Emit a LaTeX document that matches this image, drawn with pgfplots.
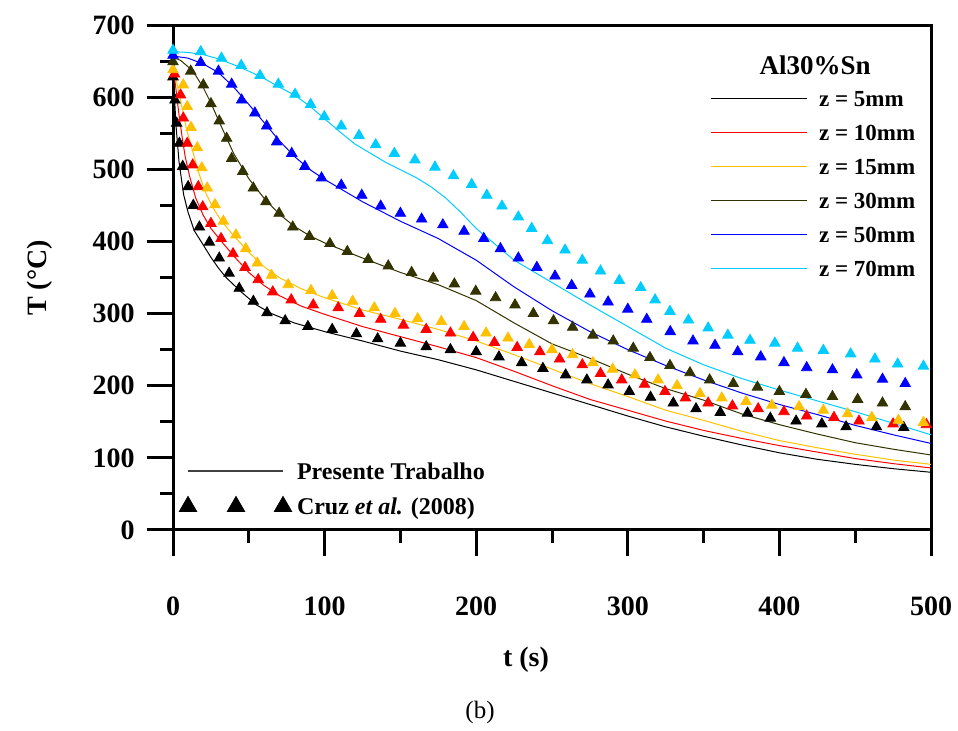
\documentclass[border=0pt]{standalone}
\usepackage{fontspec}
\setmainfont{Liberation Serif}
\usepackage{pgfplots}
\pgfplotsset{compat=1.18}
\definecolor{cyel}{RGB}{255,192,0}
\definecolor{colive}{RGB}{51,51,0}
\definecolor{ccyan}{RGB}{0,204,255}
\begin{document}
\begin{tikzpicture}
\path[use as bounding box] (-86.5pt,-100.5pt) rectangle (392.5pt,265pt);
\begin{axis}[
  at={(0pt,0pt)}, anchor=south west,
  scale only axis, width=379pt, height=252.5pt,
  xmin=0, xmax=500, ymin=0, ymax=700,
  xtick={0,100,...,500}, ytick={0,100,...,700},
  minor x tick num=1, minor y tick num=1,
  tick align=outside, tick pos=left,
  major tick length=13pt, minor tick length=6.5pt,
  axis line style={line width=1.5pt},
  major tick style={black, line width=1.5pt},
  minor tick style={black, line width=1.5pt},
  clip=false,
  /pgf/number format/assume math mode=true,
  tick label style={font=\fontsize{14}{16}\selectfont\bfseries},
  yticklabel style={anchor=east, inner sep=0pt, xshift=-6pt},
  xticklabel style={anchor=north, inner sep=0pt, yshift=-20pt},
  legend cell align=left,
  legend image code/.code={\draw[#1] (0pt,0pt) -- (48pt,0pt);},
  legend style={draw=none, fill=none, at={(0.7085,0.8707)}, anchor=north west,
    inner sep=0pt, outer sep=0pt, row sep=9pt,
    font=\fontsize{11.5}{13}\selectfont\bfseries,
    nodes={inner sep=0pt, text height=8pt, text depth=0pt},
    /tikz/every odd column/.append style={column sep=6pt}},
]
% ---- Cruz et al. (2008) markers
\addplot[only marks, mark=triangle*, mark size=3pt, black, forget plot] coordinates {
(0,628)(1.3,596)(2.4,564)(4.2,536)(6.4,504)(10,476)(13.4,450)(17.4,420)(24,399)(30.5,377)(37,356)(43.7,335)(53,317)(62,301)(74,290)(89,282)(105,278)(121,272)(135,265)(150,259)(167,254)(183,250)(200,247)(215,240)(230,232)(244,224)(259,215)(273,208)(287,201)(301,192)(315,184)(330,176)(345,168)(361,163)(379,162)(394,155)(411,151)(428,147)(444,143)(464,143)(482,142)};
\addplot[only marks, mark=triangle*, mark size=3pt, red, forget plot] coordinates {
(1,632)(5,603)(6.8,571)(9.4,536)(13,506)(16.7,476)(19.6,448)(25,425)(31.7,404)(39.6,383)(47.5,364)(56.2,347)(65.8,330)(78,319)(92.5,312)(109,308)(123,300)(137,292)(152,284)(167,278)(183,273)(198,267)(212,260)(227,253)(242,247)(255,237)(270,229)(282,217)(296,208)(311,202)(324.5,192)(338,183)(353,176)(369,172)(386,168)(403,164)(418,158)(436,156)(452.5,151)(475,147)(497,146)};
\addplot[only marks, mark=triangle*, mark size=3pt, cyel, forget plot] coordinates {
(0,638)(6.8,617)(9.4,587)(11.9,558)(16,530)(19,502)(22.6,474)(27.7,451)(33.2,428)(41.5,409)(48,390)(55.6,370)(65,353)(76,340)(91,332)(105,325)(118.5,317)(132.8,308)(146.4,300)(161.4,293)(177,289)(192,282)(206.5,273)(221,266)(235,257)(250,250)(263.6,243)(277,232)(290,223)(304.7,215)(320,208)(332.5,200)(347.6,189)(362,183)(378,178)(395,173)(413,171)(429,166)(445,161)(461,156)(478.5,152)(495,149)};
\addplot[only marks, mark=triangle*, mark size=3pt, colive, forget plot] coordinates {
(0,649)(11.7,636)(20,617)(25,591)(30.5,567)(35.4,543)(38.7,515)(46,497)(53,474)(61.3,455)(70,439)(79,420)(90,407)(103.5,397)(115,386)(128.8,375)(142,366)(157.4,357)(171.7,349)(185.6,341)(199.7,331)(212.8,322)(225.6,312)(237.7,300)(251,290)(263.6,281)(277,270)(290.4,262)(303.6,252)(314.6,239)(327.8,228)(341,218)(354,208)(369.6,203)(385.5,198)(400,192)(417.5,188)(435,185)(451.6,181)(468,176)(483,171)};
\addplot[only marks, mark=triangle*, mark size=3pt, blue, forget plot] coordinates {
(0,658)(18.3,648)(30,636)(38.7,618)(45.3,596)(54,578)(61.8,560)(68.4,538)(78.3,522)(87,504)(98,488)(111,478)(124.5,464)(137,449)(150,439)(164,431)(178,423)(192,414)(205,404)(216,390)(227.8,377)(240,364)(252,352)(263,339)(275,327)(287,316)(300,306)(312.5,292)(328,275)(343,262)(357.5,256)(372.5,247)(387.7,240)(403,232)(418,225)(435,222)(451,215)(468,209)(483,203)};
\addplot[only marks, mark=triangle*, mark size=3pt, ccyan, forget plot] coordinates {
(0,665)(18.3,663)(32,654)(45,644)(57.4,630)(69.5,618)(80.5,604)(90.8,590)(99.8,573)(111,560)(122.7,547)(133.7,534)(146,522)(159.6,513)(172.8,503)(185,491)(197,479)(207,464)(217,449)(227.8,434)(236.6,418)(247,401)(258.6,388)(270,374)(282,359)(294.4,346)(308.5,336)(318,319)(327.8,303)(340,291)(353,280)(366,270)(380.6,263)(397,259)(412,252)(429,249)(447,244)(463,237)(478,230)(495,227)};
% ---- Presente Trabalho lines
\addplot[black, line width=0.5pt] coordinates {
(0,640)(2,560)(4,510)(7,465)(10,440)(14,415)(20,395)(25,378)(30,363)(35,350)(45,330)(55,312)(65,300)(80,287)(100,275)(125,262)(150,248)(175,236)(200,222)(225,206)(250,190)(275,174)(300,158)(325,143)(350,130)(375,118)(400,107)(425,98)(450,91)(475,85)(500,80)};
\addlegendentry{z = 5mm}
\addplot[red, line width=0.5pt] coordinates {
(0,645)(2,610)(4,575)(6,545)(8,518)(11,490)(15,460)(20,436)(25,418)(32,400)(40,380)(50,357)(60,339)(70,325)(85,310)(100,299)(125,282)(150,268)(175,254)(200,239)(225,220)(250,200)(275,181)(300,166)(325,151)(350,138)(375,127)(400,117)(425,108)(450,99)(475,92)(500,86)};
\addlegendentry{z = 10mm}
\addplot[cyel, line width=0.5pt] coordinates {
(0,648)(3,615)(6,585)(9,555)(13,525)(17,495)(21,470)(26,448)(32,428)(40,408)(50,385)(60,365)(70,350)(85,334)(100,322)(125,305)(150,292)(175,278)(200,262)(225,243)(250,223)(275,203)(300,185)(325,166)(350,152)(375,137)(400,124)(425,114)(450,105)(475,97)(500,91)};
\addlegendentry{z = 15mm}
\addplot[colive, line width=0.5pt] coordinates {
(0,655)(5,651)(10,642)(15,630)(20,613)(25,592)(30,568)(35,545)(40,522)(50,487)(60,460)(70,438)(80,421)(90,408)(100,398)(125,377)(150,357)(175,340)(200,318)(225,287)(250,258)(275,238)(300,216)(325,196)(350,180)(375,161)(400,146)(425,133)(450,121)(475,112)(500,104)};
\addlegendentry{z = 30mm}
\addplot[blue, line width=0.5pt] coordinates {
(0,657)(10,654)(20,646)(30,634)(40,614)(50,590)(60,565)(70,540)(80,518)(90,500)(100,486)(125,455)(150,428)(175,404)(200,374)(225,337)(250,304)(275,275)(300,250)(325,228)(350,208)(375,190)(400,174)(425,160)(450,145)(475,132)(500,120)};
\addlegendentry{z = 50mm}
\addplot[ccyan, line width=0.5pt] coordinates {
(0,663)(10,662)(20,659)(30,653)(40,645)(50,636)(60,626)(70,614)(80,603)(90,588)(100,570)(110,552)(120,535)(140,510)(160,489)(170,476)(180,460)(190,440)(200,418)(225,374)(250,343)(275,312)(300,282)(325,252)(350,229)(375,210)(400,194)(425,179)(450,164)(475,148)(500,132)};
\addlegendentry{z = 70mm}
\node[font=\fontsize{13.5}{15}\selectfont\bfseries] at (axis cs:423.5,644.6) {Al30\%Sn};
\end{axis}
\begin{axis}[
  at={(0pt,0pt)}, anchor=south west,
  scale only axis, width=379pt, height=252.5pt,
  hide axis, xmin=0, xmax=1, ymin=0, ymax=1,
  legend cell align=left,
  legend style={draw=none, fill=none, at={(0.0066,0.1337)}, anchor=north west,
    inner sep=0pt, outer sep=0pt, row sep=8.5pt,
    font=\fontsize{12}{14}\selectfont\bfseries,
    nodes={inner sep=0pt, text height=8.5pt, text depth=0pt},
    /tikz/every odd column/.append style={column sep=1.5pt}},
]
\addlegendimage{legend image code/.code={\path[draw=none, fill=none] (-5pt,0pt) -- (53pt,0pt); \draw[black!75, line width=0.6pt] (0pt,0pt) -- (47.5pt,0pt);}}
\addlegendentry{Presente Trabalho}
\addlegendimage{legend image code/.code={\path[draw=none, fill=none] (-5pt,0pt) -- (53pt,0pt); \path[draw=none] plot[only marks, mark=triangle*, mark size=5pt, mark options={draw=black, fill=black}] coordinates {(0pt,0pt) (24pt,0pt) (47.5pt,0pt)};}}
\addlegendentry{Cruz \textit{et al.} (2008)}
\end{axis}
\node[font=\fontsize{14}{16}\selectfont\bfseries] at (176.5pt,-65pt) {t (s)};
\node[font=\fontsize{14}{16}\selectfont\bfseries, rotate=90] at (-66.5pt,126pt) {T (°C)};
\node[font=\fontsize{12.5}{14}\selectfont] at (153.5pt,-91pt) {(b)};
\end{tikzpicture}
\end{document}
